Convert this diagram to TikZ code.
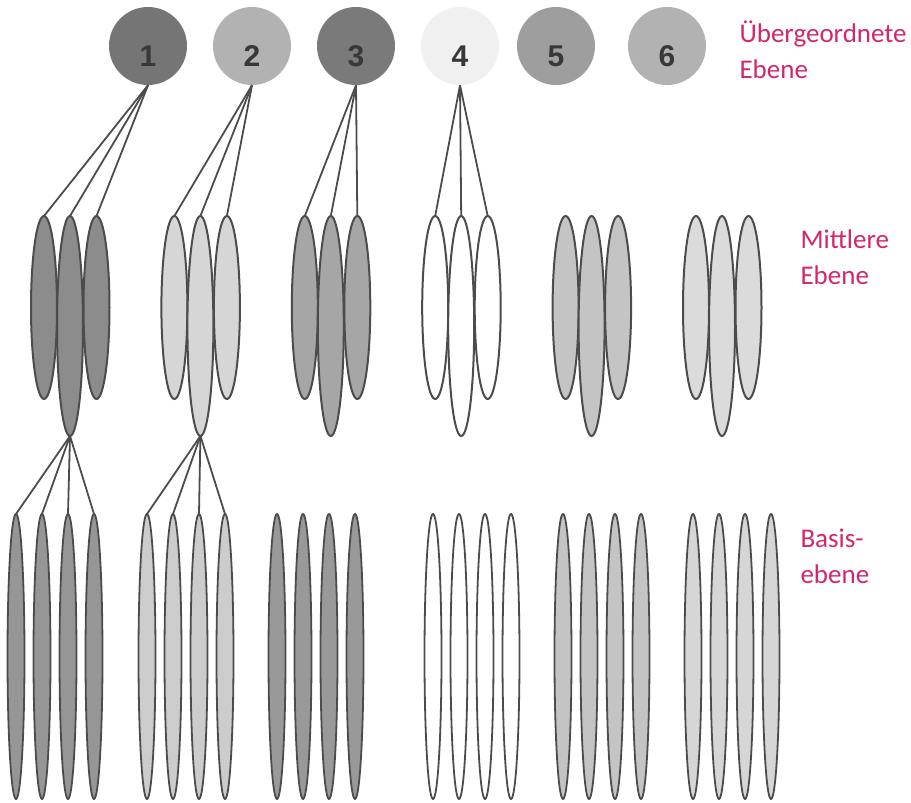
\documentclass[tikz,border=0pt]{standalone}
\usepackage{fontspec}
\usepackage{xcolor}
\usetikzlibrary{shapes.geometric}

\newfontfamily\labelfont{Carlito}
\newfontfamily\numfont{Liberation Sans}

\definecolor{linegray}{gray}{0.30}
\definecolor{ebenered}{RGB}{212,38,108}
\definecolor{circ1}{gray}{0.46}
\definecolor{circ2}{gray}{0.70}
\definecolor{circ3}{gray}{0.48}
\definecolor{circ4}{gray}{0.94}
\definecolor{circ5}{gray}{0.62}
\definecolor{circ6}{gray}{0.70}
\definecolor{mid1}{gray}{0.55}
\definecolor{mid2}{gray}{0.84}
\definecolor{mid3}{gray}{0.65}
\definecolor{mid4}{gray}{1.00}
\definecolor{mid5}{gray}{0.77}
\definecolor{mid6}{gray}{0.86}
\definecolor{base1}{gray}{0.59}
\definecolor{base2}{gray}{0.80}
\definecolor{base3}{gray}{0.60}
\definecolor{base4}{gray}{1.00}
\definecolor{base5}{gray}{0.77}
\definecolor{base6}{gray}{0.84}

\tikzset{
  topcirc/.style={circle, draw=none, minimum size=78pt, inner sep=0pt,
    text height=41pt, text depth=0pt, text=black!78,
    font=\numfont\bfseries\fontsize{30}{30}\selectfont},
  midell/.style={ellipse, draw=linegray, line width=2pt, inner sep=0pt,
    outer sep=0pt, minimum width=26pt},
  baseell/.style={ellipse, draw=linegray, line width=1.8pt, inner sep=0pt,
    outer sep=0pt, minimum width=17pt, minimum height=285pt},
  link/.style={draw=linegray, line width=1.8pt},
  ebenetext/.style={anchor=base west, align=left, text=ebenered,
    font=\labelfont\fontsize{27}{36}\selectfont}
}

\begin{document}
\begin{tikzpicture}[x=1pt, y=-1pt]
\def\topy{46}
\def\midy{307.5}
\def\longy{326}
\def\basey{656.5}

\useasboundingbox (0,0) rectangle (911,803);

% upper level
\foreach \g/\x in {1/148,2/252,3/356,4/460,5/556,6/667} {
  \node[topcirc, fill=circ\g] (c\g) at (\x,\topy) {\g};
}

% middle level: outer ones first, long one on top
\foreach \g in {1,...,6} {
  \pgfmathsetmacro{\mx}{70+130.4*(\g-1)}
  \node[midell, minimum height=183pt, fill=mid\g] (m\g-1) at ({\mx-26},\midy) {};
  \node[midell, minimum height=183pt, fill=mid\g] (m\g-3) at ({\mx+26.5},\midy) {};
  \node[midell, minimum height=220pt, fill=mid\g] (m\g-2) at (\mx,\longy) {};
}

% base level
\foreach \g/\s in {1/16,2/147,3/277,4/433,5/563,6/693} {
  \foreach \k in {1,...,4} {
    \node[baseell, fill=base\g] (b\g-\k) at ({\s+26*(\k-1)},\basey) {};
  }
}

\foreach \g in {1,...,4} {
  \foreach \k in {1,2,3} {
    \draw[link] (c\g.south) -- (m\g-\k.north);
  }
}
\foreach \g in {1,2} {
  \foreach \k in {1,...,4} {
    \draw[link] (m\g-2.south) -- (b\g-\k.north);
  }
}

% labels (base = last line)
\node[ebenetext] (lbltop) at (736,78) {Übergeordnete\\Ebene};
\node[ebenetext] (lblmid) at (797,284) {Mittlere\\Ebene};
\node[ebenetext] (lblbase) at (797,583) {Basis-\\ebene};
\end{tikzpicture}
\end{document}
